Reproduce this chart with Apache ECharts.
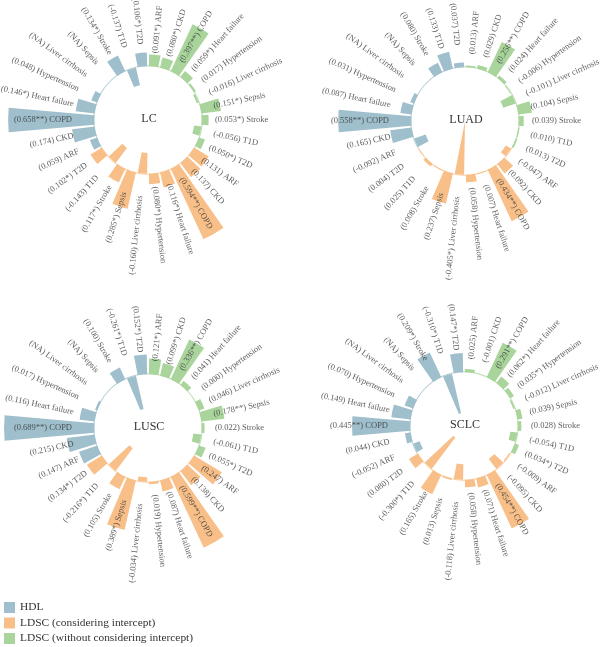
<!DOCTYPE html>
<html><head><meta charset="utf-8">
<script src="https://cdn.jsdelivr.net/npm/echarts@6/dist/echarts.min.js"></script>
<style>html,body{margin:0;padding:0;background:#fff}#c{width:600px;height:647px}</style>
</head><body><div id="c"></div>
<script>
// ---------- data ----------
const diseases = ['ARF','CKD','COPD','Heart failure','Hypertension','Liver cirrhosis','Sepsis','Stroke','T1D','T2D'];
const groupNames = ['LDSC (without considering intercept)','LDSC (considering intercept)','HDL'];
const legendOrder = ['HDL','LDSC (considering intercept)','LDSC (without considering intercept)'];
const panelNames = ['LC','LUAD','LUSC','SCLC'];

// LC
const lcWithout    = [0.091,0.080,0.397,0.059,0.017,-0.016,0.151,0.053,-0.056,0.050];
const lcWithoutSig = ['*','*','**','*','','','*','*','','*'];
const lcWith       = [0.131,0.137,0.594,0.116,0.080,-0.160,0.285,0.117,-0.143,0.102];
const lcWithSig    = ['','','**','*','*','','*','*','','*'];
const lcHDL        = [0.059,0.174,0.658,0.146,0.048,null,null,0.134,-0.137,0.106];
const lcHDLSig     = ['','','**','*','','','','*','','*'];
// LUAD
const luadWithout    = [0.013,0.029,0.256,0.024,-0.006,-0.101,0.104,0.039,0.010,0.013];
const luadWithoutSig = ['','','**','','','','','','',''];
const luadWith       = [-0.047,0.092,0.434,0.007,0.058,-0.405,0.237,0.008,0.025,0.004];
const luadWithSig    = ['','','**','','','*','','','',''];
const luadHDL        = [-0.092,0.165,0.558,0.087,0.031,null,null,0.080,0.133,0.037];
const luadHDLSig     = ['','','**','','','','','','',''];
// LUSC
const luscWithout    = [0.121,0.099,0.336,0.041,0.000,0.046,0.178,0.022,-0.061,0.055];
const luscWithoutSig = ['*','*','**','','','','**','','','*'];
const luscWith       = [0.247,0.138,0.599,0.087,0.019,-0.034,0.389,0.105,-0.216,0.134];
const luscWithSig    = ['','','**','','','','*','','*','*'];
const luscHDL        = [0.147,0.215,0.689,0.116,0.017,null,null,0.100,-0.261,0.152];
const luscHDLSig     = ['','','**','','','','','','*','*'];
// SCLC
const sclcWithout    = [0.025,-0.001,0.291,0.062,0.035,-0.012,0.039,0.028,-0.054,0.034];
const sclcWithoutSig = ['','','**','*','*','','','','','*'];
const sclcWith       = [-0.009,-0.095,0.454,0.071,0.058,-0.118,0.013,0.165,-0.300,0.080];
const sclcWithSig    = ['','','**','','','','','','*',''];
const sclcHDL        = [-0.052,0.044,0.445,0.149,0.070,null,null,0.209,-0.310,0.147];
const sclcHDLSig     = ['','','**','','','','','*','*','*'];

// ---------- styling / layout ----------
const colors = ['#a9d49c','#f8bf89','#9fbfcc'];
const ringColors = ['#b9dcae','#f9cfa5','#b3ccd7'];
const centers = [[148,120],[465,121],[148,428],[464,426]];
const rMin = -0.41, rMax = 0.72, outerPx = 148;
const pxPerUnit = outerPx / (rMax - rMin);
const zeroPx = -rMin * pxPerUnit;
const labelRightPx = 67, labelLeftPx = 76;
const FONT = 'Liberation Serif';

const panels = [
  [[lcWithout,lcWithoutSig],[lcWith,lcWithSig],[lcHDL,lcHDLSig]],
  [[luadWithout,luadWithoutSig],[luadWith,luadWithSig],[luadHDL,luadHDLSig]],
  [[luscWithout,luscWithoutSig],[luscWith,luscWithSig],[luscHDL,luscHDLSig]],
  [[sclcWithout,sclcWithoutSig],[sclcWith,sclcWithSig],[sclcHDL,sclcHDLSig]]
];

const cats = [];
for (let g = 0; g < 3; g++) diseases.forEach(d => cats.push(g + '-' + d));

const polar = [], angleAxis = [], radiusAxis = [], series = [], graphic = [];
function addPolar(c) {
  const idx = polar.length;
  polar.push({center: c, radius: [0, outerPx]});
  angleAxis.push({polarIndex: idx, type: 'category', data: cats, startAngle: 90, clockwise: true, boundaryGap: true,
    axisLine: {show: false}, axisTick: {show: false}, axisLabel: {show: false}, splitLine: {show: false}});
  radiusAxis.push({polarIndex: idx, type: 'value', min: rMin, max: rMax,
    axisLine: {show: false}, axisTick: {show: false}, axisLabel: {show: false}, splitLine: {show: false}});
  return idx;
}

panels.forEach((panel, p) => {
  const ringIdx = addPolar(centers[p]);
  const barIdx = addPolar(centers[p]);
  // baseline ring
  const ringData = cats.map((c, i) => ({value: 1 / pxPerUnit, itemStyle: {color: ringColors[Math.floor(i / 10)]}}));
  series.push({type: 'bar', coordinateSystem: 'polar', polarIndex: ringIdx, name: 'ring' + p, data: ringData,
    barCategoryGap: '0%', silent: true, z: 1, animation: false});
  // bars
  panel.forEach((grp, g) => {
    const data = cats.map((c, i) => {
      if (Math.floor(i / 10) !== g) return '-';
      const v = grp[0][i % 10];
      return v == null ? '-' : v;
    });
    series.push({type: 'bar', coordinateSystem: 'polar', polarIndex: barIdx, name: groupNames[g],
      data: data, barCategoryGap: '16%', barGap: '-100%', clip: false, itemStyle: {color: colors[g]}, silent: true, z: 2, animation: false});
  });
  // labels
  const labelData = [];
  panel.forEach((grp, g) => {
    diseases.forEach((d, k) => {
      const i = g * 10 + k;
      const theta = 12 * i + 6;
      const v = grp[0][k];
      const txt = '(' + (v == null ? 'NA' : v.toFixed(3) + grp[1][k]) + ') ' + d;
      const right = theta < 180;
      const rPx = right ? labelRightPx : labelLeftPx;
      labelData.push({
        value: [(rPx - zeroPx) / pxPerUnit, i],
        label: {show: true, formatter: txt, position: right ? 'right' : 'left', distance: 0,
          rotate: right ? 90 - theta : 270 - theta}
      });
    });
  });
  series.push({type: 'scatter', coordinateSystem: 'polar', polarIndex: barIdx, name: 'labels' + p, data: labelData,
    symbolSize: 0, silent: true, z: 5, animation: false,
    label: {show: true, color: '#333', fontSize: 8.5, fontFamily: FONT}});
  graphic.push({type: 'text', x: centers[p][0] + 1, y: centers[p][1] - 1,
    style: {text: panelNames[p], fill: '#333', font: '12px "' + FONT + '"', textAlign: 'center', textVerticalAlign: 'middle'}});
});

const chart = echarts.init(document.getElementById('c'));
chart.setOption({
  animation: false,
  polar, angleAxis, radiusAxis, series, graphic,
  legend: {data: legendOrder, orient: 'vertical', left: 4, top: 602, height: 60, padding: 0,
    itemWidth: 11, itemHeight: 11, itemGap: 4.5,
    icon: 'rect', selectedMode: false,
    textStyle: {fontFamily: FONT, fontSize: 11.4, color: '#333'}}
});
</script></body></html>
